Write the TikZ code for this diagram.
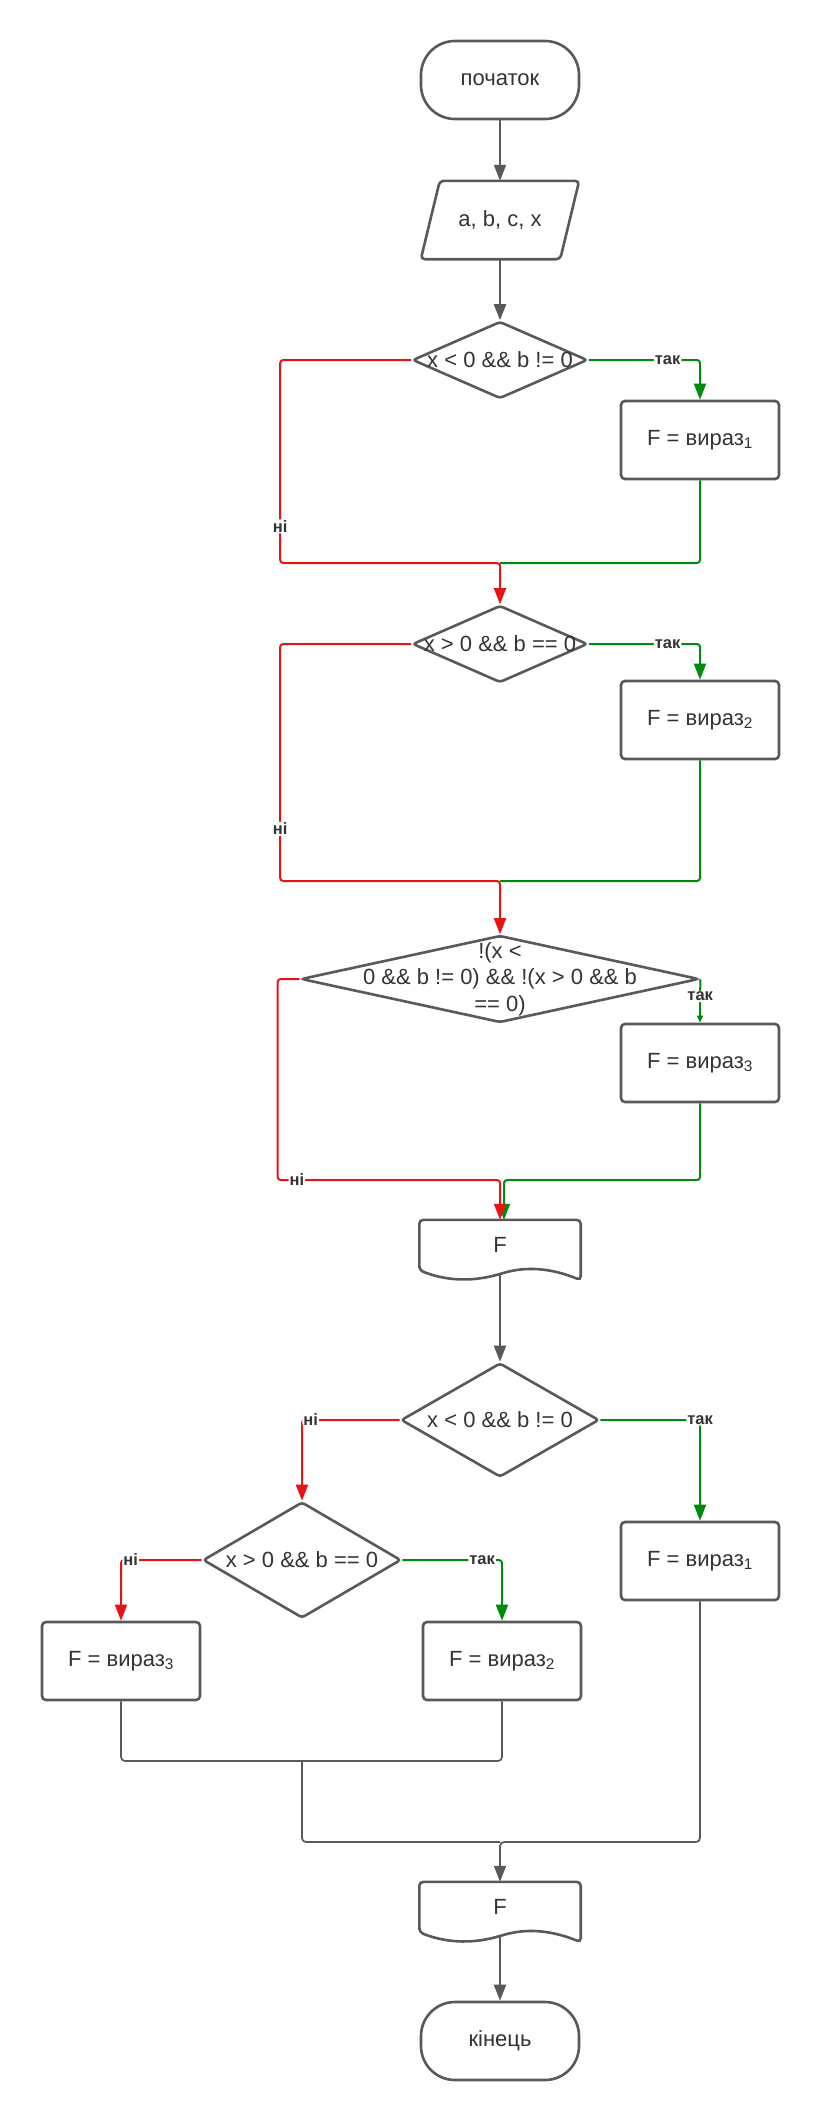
\documentclass[tikz,border=0pt]{standalone}
\usepackage{fontspec}
\setmainfont{Liberation Sans}
\usetikzlibrary{shapes.geometric, arrows.meta}

\definecolor{edge}{RGB}{89,89,89}
\definecolor{txtc}{RGB}{51,51,51}
\definecolor{nored}{RGB}{232,19,19}
\definecolor{yesgreen}{RGB}{0,138,14}

\newcommand{\mainfs}{\fontsize{22}{26.5}\selectfont}
\newcommand{\lblfs}{\fontsize{16.5}{18}\selectfont}

% document shape round an empty box node
\newcommand{\docshape}[1]{%
  \draw[shapeline, rounded corners=4pt] (#1.south west) -- (#1.north west) -- (#1.north east)
    -- ([yshift=-10pt]#1.south east)
    .. controls ([xshift=125pt,yshift=5pt]#1.south west) and ([xshift=100pt,yshift=2pt]#1.south west)
    .. ([xshift=80pt,yshift=-4pt]#1.south west)
    .. controls ([xshift=50pt,yshift=-12pt]#1.south west) and ([xshift=25pt,yshift=-10pt]#1.south west)
    .. (#1.south west) -- cycle;
}

\begin{document}
\begin{tikzpicture}[x=1pt, y=-1pt,
    shapeline/.style={draw=edge, line width=2.6pt},
    term/.style={shapeline, rectangle, rounded corners=34pt, minimum width=158pt, minimum height=78pt, inner sep=0pt, text=txtc, font=\mainfs},
    iobox/.style={rectangle, minimum width=158pt, minimum height=78pt, inner sep=0pt, text=txtc, font=\mainfs},
    proc/.style={shapeline, rectangle, rounded corners=4pt, minimum width=158pt, minimum height=78pt, inner sep=0pt, text=txtc, font=\mainfs},
    decide/.style={shapeline, diamond, rounded corners=3pt, inner sep=0pt},
    txt/.style={text=txtc, font=\mainfs, align=center},
    docbox/.style={minimum width=161pt, minimum height=50pt, inner sep=0pt, text=txtc, font=\mainfs},
    arr/.style={-{Triangle[length=16pt,width=12pt]}},
    gr/.style={draw=edge, line width=2pt, rounded corners=3pt},
    merge/.style={draw=edge, line width=1.7pt, rounded corners=4pt},
    nopath/.style={draw=nored, line width=2pt, rounded corners=3pt},
    yespath/.style={draw=yesgreen, line width=2pt, rounded corners=3pt},
    lbl/.style={fill=white, inner sep=1pt, text=txtc, font=\bfseries\lblfs}]

    \useasboundingbox (0,0) rectangle (820,2120);

    % blocks
    \node[term] (start) at (500,80) {початок};
    \node[iobox] (inp) at (500,220) {a, b, c, x};
    \draw[shapeline, rounded corners=4pt] ([xshift=19pt]inp.north west) -- (inp.north east)
      -- ([xshift=-19pt]inp.south east) -- (inp.south west) -- cycle;
    \node[decide, minimum width=175pt, minimum height=77pt, label={[txt]center:{x < 0 \&\& b != 0}}] (d1) at (500,360) {};
    \node[proc] (b1) at (700,440) {F = вираз\textsubscript{1}};
    \node[decide, minimum width=175pt, minimum height=77pt, label={[txt]center:{x > 0 \&\& b == 0}}] (d2) at (500,644) {};
    \node[proc] (b2) at (700,720) {F = вираз\textsubscript{2}};
    \node[decide, minimum width=398pt, minimum height=87pt, label={[txt]center:{!(x <\\0 \&\& b != 0) \&\& !(x > 0 \&\& b\\== 0)}}] (d3) at (500,979) {};
    \node[proc] (b3) at (700,1063) {F = вираз\textsubscript{3}};
    \node[docbox] (o1) at (500,1245) {F};
    \docshape{o1}
    \node[decide, minimum width=198pt, minimum height=114pt, label={[txt]center:{x < 0 \&\& b != 0}}] (d4) at (500,1420) {};
    \node[proc] (b1b) at (700,1561) {F = вираз\textsubscript{1}};
    \node[decide, minimum width=198pt, minimum height=116pt, label={[txt]center:{x > 0 \&\& b == 0}}] (d5) at (302,1560) {};
    \node[proc] (b3b) at (121,1661) {F = вираз\textsubscript{3}};
    \node[proc] (b2b) at (502,1661) {F = вираз\textsubscript{2}};
    \node[docbox] (o2) at (500,1907) {F};
    \docshape{o2}
    \node[term] (fin) at (500,2041) {кінець};

    % merge points
    \coordinate (m1) at (500,563);
    \coordinate (m2) at (500,881);
    \coordinate (m3) at (500,1180);
    \coordinate (m5) at (302,1761);
    \coordinate (m6) at (500,1842);

    % top part
    \draw[gr, arr] (start.south) -- (inp.north);
    \draw[gr, arr] (inp.south) -- (d1.north);

    \draw[yespath, arr] (d1.east) -| node[lbl, pos=0.354]{так} (b1.north);
    \draw[yespath] (b1.south) |- (m1);
    \draw[nopath, arr] (d1.west) -- ++(-131,0) |- node[lbl, pos=0.41]{ні} (m1) -- (d2.north);

    \draw[yespath, arr] (d2.east) -| node[lbl, pos=0.354]{так} (b2.north);
    \draw[yespath] (b2.south) |- (m2);
    \draw[nopath, arr] (d2.west) -- ++(-131,0) |- node[lbl, pos=0.39]{ні} (m2) -- (d3.north);

    \draw[yespath, -{Triangle[length=7pt,width=6pt]}] (d3.east) -- node[lbl, pos=0.4]{так} (b3.north);
    \draw[yespath, arr] (b3.south) |- ([xshift=4pt]m3) -- ([xshift=4pt]o1.north);
    \draw[nopath, arr] (d3.west) -- ++(-22,0) |- node[lbl, pos=0.543]{ні} (m3) -- (o1.north);

    \draw[gr, arr] ([yshift=-4pt]o1.south) -- (d4.north);

    % bottom part
    \draw[yespath, arr] (d4.east) -| node[lbl, pos=0.5]{так} (b1b.north);
    \draw[nopath, arr] (d4.west) -| node[lbl, pos=0.456]{ні} (d5.north);
    \draw[nopath, arr] (d5.west) -| node[lbl, pos=0.44]{ні} (b3b.north);
    \draw[yespath, arr] (d5.east) -| node[lbl, pos=0.40]{так} (b2b.north);

    \draw[merge] (b3b.south) |- (m5) -| (b2b.south);
    \draw[merge] (m5) |- (m6);
    \draw[merge, arr] (b1b.south) |- (m6) -- (o2.north);
    \draw[gr, arr] ([yshift=-4pt]o2.south) -- (fin.north);
\end{tikzpicture}
\end{document}
